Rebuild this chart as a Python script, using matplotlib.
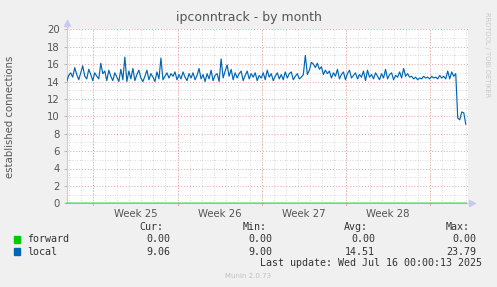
import numpy as np
import matplotlib
matplotlib.use("Agg")
import matplotlib.pyplot as plt

# ---- data ----
title = "ipconntrack - by month"
ylabel = "established connections"
week_labels = ["Week 25", "Week 26", "Week 27", "Week 28"]
series_names = ["forward", "local"]
series_colors = ["#00cc00", "#0066b3"]
cur_vals = ["0.00", "9.06"]
min_vals = ["0.00", "9.00"]
avg_vals = ["0.00", "14.51"]
max_vals = ["0.00", "23.79"]
last_update = "Last update: Wed Jul 16 00:00:13 2025"
munin_version = "Munin 2.0.73"

local = [
    14.0, 14.7, 15.0, 14.5, 15.6, 14.8, 14.2, 15.0, 15.8, 14.6,
    14.3, 15.4, 14.8, 14.1, 15.0, 14.6, 14.3, 16.1, 14.9, 15.2,
    14.1, 15.3, 14.6, 14.1, 15.0, 14.5, 14.0, 15.4, 14.2, 16.8,
    14.0, 15.2, 14.3, 15.5, 14.1, 14.8, 15.3, 14.4, 14.0, 14.6,
    15.3, 14.2, 14.9, 14.5, 14.0, 15.1, 14.3, 16.7, 14.2, 14.6,
    15.0, 14.4, 14.9, 14.6, 15.1, 14.2, 14.8, 14.3, 15.1, 14.5,
    14.1, 14.9, 14.4, 15.0, 14.2, 14.7, 15.5, 14.3, 14.8, 14.0,
    14.9, 14.3, 15.3, 14.1, 14.7, 14.9, 14.0, 16.6, 14.4, 15.2,
    15.9, 14.6, 15.4, 14.2, 15.0, 14.4, 14.9, 15.2, 14.1, 14.7,
    15.2, 14.3, 14.9, 14.5, 15.0, 14.1, 14.7, 14.4, 15.0, 14.2,
    15.3, 14.5, 14.9, 14.1, 14.6, 15.0, 14.3, 14.8, 14.2, 15.1,
    14.4, 14.9, 15.1, 14.2, 14.6, 14.9, 14.3, 14.5, 14.8, 17.0,
    14.8, 15.3, 16.2, 16.0, 15.6, 16.1, 15.4, 15.7, 14.8, 15.3,
    14.9, 15.2, 14.4, 15.0, 14.6, 15.4, 14.3, 14.8, 15.1, 14.2,
    14.9, 15.3, 14.4, 14.7, 15.0, 14.3, 14.8, 14.5, 15.2, 14.1,
    15.3, 14.5, 14.8, 14.3, 15.0, 14.6, 14.2, 14.9, 14.4, 15.4,
    14.3, 14.8, 15.0, 14.2, 14.7, 14.5, 15.1, 14.4, 15.5, 14.6,
    14.9, 14.5, 14.6, 14.3, 14.5, 14.2, 14.4, 14.3, 14.6, 14.4,
    14.5, 14.3, 14.6, 14.4, 14.5, 14.3, 14.7, 14.4, 14.6, 14.3,
    15.2, 14.3, 15.1, 14.6, 14.9, 9.8, 9.6, 10.5, 10.4, 9.1,
]

# time axis (days since graph start)
t_end = 33.17
span = 33.38
first_week = 2.21

t = np.linspace(0, t_end, len(local))
forward = np.zeros_like(t)

# ---- figure ----
W, H, DPI = 497, 287, 100
fig = plt.figure(figsize=(W / DPI, H / DPI), dpi=DPI, facecolor="#f0f0f0")
x0, x1, y0, y1 = 66.7, 468.3, 29.3, 203.3
ax = fig.add_axes([x0 / W, 1 - y1 / H, (x1 - x0) / W, (y1 - y0) / H])
ax.set_facecolor("white")
ax.set_xlim(0, span)
ax.set_ylim(0, 20)

# grid
for d in np.arange(0, span, 1.0):
    off = d + (first_week % 1.0)
    ax.axvline(off, color="#cfcfcf", lw=0.6, ls=(0, (1, 2)), zorder=1)
for v in range(0, 21):
    if v % 2:
        ax.axhline(v, color="#cfcfcf", lw=0.6, ls=(0, (1, 2)), zorder=1)
weeks = [first_week + 7 * k for k in range(5)]
for w in weeks:
    ax.axvline(w, color="#e8a0a0", lw=0.7, ls=(0, (1, 2)), zorder=2)
for v in range(2, 21, 2):
    ax.axhline(v, color="#e8a0a0", lw=0.7, ls=(0, (1, 2)), zorder=2)

# series
ax.plot(t, local, color=series_colors[1], lw=0.85, zorder=4, solid_joinstyle="round")
ax.plot(t, forward, color=series_colors[0], lw=1.3, alpha=0.4, zorder=5, clip_on=False)

# spines and arrows
for s in ["top", "right"]:
    ax.spines[s].set_visible(False)
ax.spines["left"].set_color("#c8c8f0")
ax.spines["bottom"].set_color("#c8c8f0")
ax.spines["left"].set_linewidth(0.8)
ax.spines["bottom"].set_linewidth(0.8)
ax.plot([0], [20.75], marker="^", color="#c8c8f0", ms=4, clip_on=False, zorder=6)
ax.plot([span + 0.3], [0], marker=">", color="#c8c8f0", ms=4, clip_on=False, zorder=6)
ax.plot([0, 0], [20, 20.6], color="#c8c8f0", lw=0.8, clip_on=False)
ax.plot([span, span + 0.2], [0, 0], color="#c8c8f0", lw=0.8, clip_on=False)

# ticks
ax.set_yticks(range(0, 21, 2))
ax.set_yticklabels([str(v) for v in range(0, 21, 2)])
ax.tick_params(axis="y", length=2, width=0.6, color="#b0b0b0", labelsize=7.3,
               labelcolor="#555555", pad=3)
mids = [w + 3.5 for w in weeks[:4]]
ax.set_xticks(mids)
ax.set_xticklabels(week_labels)
ax.tick_params(axis="x", length=0, labelsize=7.3, labelcolor="#555555", pad=4)
for w in weeks:
    ax.plot([w, w], [0, -0.25], color="#e8a0a0", lw=0.7, clip_on=False)

# texts
fig.text(249 / W, 1 - 18 / H, title, ha="center", va="center", fontsize=9,
         color="#555555")
fig.text(10 / W, 1 - 117 / H, ylabel, ha="center", va="center", rotation=90,
         fontsize=7.3, color="#555555")
fig.text(487 / W, 1 - 55 / H, "RRDTOOL / TOBI OETIKER", ha="center", va="center",
         rotation=270, fontsize=4.8, color="#c8c8c8")

mono = "DejaVu Sans Mono"
fs = 7.2
tc = "#333333"
hy = 1 - 227.5 / H
for txt, xr in zip(["Cur:", "Min:", "Avg:", "Max:"], [163.3, 266.7, 368.3, 470.0]):
    fig.text(xr / W, hy, txt, ha="right", va="center", family=mono, fontsize=fs, color=tc)
rows_y = [239.3, 251.7]
val_x = [170.0, 272.7, 375.0, 476.7]
for i, name in enumerate(series_names):
    yy = 1 - rows_y[i] / H
    fig.patches.append(plt.Rectangle((14 / W, yy - 3.2 / H), 6 / W, 6.4 / H,
                                     transform=fig.transFigure, color=series_colors[i],
                                     figure=fig))
    fig.text(26.7 / W, yy, name, ha="left", va="center", family=mono, fontsize=fs, color=tc)
    for vals, xr in zip([cur_vals, min_vals, avg_vals, max_vals], val_x):
        fig.text(xr / W, yy, vals[i], ha="right", va="center", family=mono,
                 fontsize=fs, color=tc)
fig.text(482.3 / W, 1 - 263.3 / H, last_update, ha="right", va="center",
         family=mono, fontsize=fs, color=tc)
fig.text(248 / W, 1 - 276 / H, munin_version, ha="center", va="center",
         fontsize=5, color="#c0c0c0")

fig.savefig("out.png", dpi=DPI, facecolor=fig.get_facecolor())
